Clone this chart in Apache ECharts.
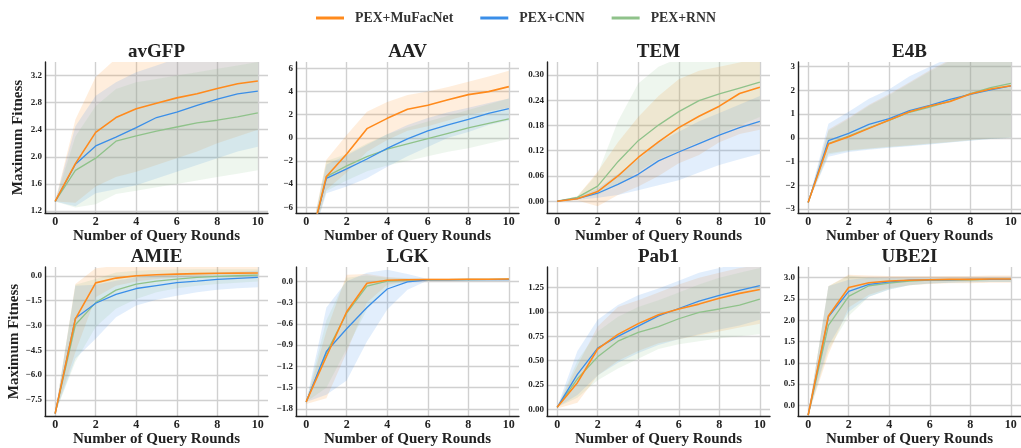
<!DOCTYPE html>
<html>
<head>
<meta charset="utf-8">
<style>
  html, body { margin: 0; padding: 0; background: #fff; }
  #main { width: 1021px; height: 448px; }
</style>
</head>
<body>
<div id="main"></div>
<script src="https://cdn.jsdelivr.net/npm/echarts@6/dist/echarts.min.js"></script>
<script>
// rounds on the x axis
var rounds = [0, 1, 2, 3, 4, 5, 6, 7, 8, 9, 10];
var xTicks = [0, 2, 4, 6, 8, 10];
var methods = ['PEX+MuFacNet', 'PEX+CNN', 'PEX+RNN'];
var colors = ['#ff8a1c', '#3a8ee8', '#8fc28a'];

// avGFP
var avgfpMufac = [1.34, 1.90, 2.36, 2.58, 2.71, 2.79, 2.87, 2.93, 3.01, 3.08, 3.12];
var avgfpCnn   = [1.34, 1.89, 2.16, 2.29, 2.43, 2.58, 2.66, 2.76, 2.85, 2.93, 2.97];
var avgfpRnn   = [1.34, 1.80, 1.98, 2.23, 2.31, 2.38, 2.44, 2.50, 2.54, 2.59, 2.65];
var avgfpMufacLo = [1.34, 1.32, 1.56, 1.70, 1.78, 1.88, 1.98, 2.08, 2.20, 2.30, 2.40];
var avgfpMufacHi = [1.34, 2.55, 3.18, 3.45, 3.55, 3.60, 3.65, 3.70, 3.75, 3.80, 3.80];
var avgfpCnnLo = [1.34, 1.27, 1.46, 1.52, 1.58, 1.68, 1.78, 1.88, 1.98, 2.08, 2.15];
var avgfpCnnHi = [1.34, 2.45, 2.90, 3.10, 3.25, 3.35, 3.45, 3.50, 3.55, 3.60, 3.60];
var avgfpRnnLo = [1.34, 1.25, 1.30, 1.45, 1.50, 1.55, 1.60, 1.65, 1.70, 1.75, 1.80];
var avgfpRnnHi = [1.34, 2.30, 2.75, 3.00, 3.10, 3.15, 3.20, 3.25, 3.30, 3.35, 3.40];
var avgfpTicks = [1.2, 1.6, 2.0, 2.4, 2.8, 3.2];

// AAV
var aavMufac = [-10.5, -3.35, -1.40, 0.79, 1.68, 2.46, 2.81, 3.29, 3.73, 3.99, 4.42];
var aavCnn   = [-10.5, -3.50, -2.69, -1.83, -0.91, -0.10, 0.59, 1.11, 1.60, 2.12, 2.52];
var aavRnn   = [-10.5, -3.35, -2.43, -1.63, -0.99, -0.53, -0.07, 0.39, 0.85, 1.25, 1.63];
var aavMufacLo = [-10.5, -4.5, -3.0, -1.2, -0.2, 0.6, 1.0, 1.5, 2.0, 2.3, 2.6];
var aavMufacHi = [-10.5, -1.9, 0.24, 2.26, 3.1, 3.7, 4.0, 4.4, 4.85, 5.3, 5.8];
var aavCnnLo = [-10.5, -4.8, -4.2, -3.5, -2.5, -1.6, -0.8, 0.0, 0.5, 1.1, 1.5];
var aavCnnHi = [-10.5, -2.3, -1.5, -0.6, 0.3, 1.1, 1.7, 2.2, 2.6, 3.0, 3.4];
var aavRnnLo = [-10.5, -4.6, -3.7, -2.9, -2.4, -2.0, -1.6, -1.2, -0.9, -0.5, -0.1];
var aavRnnHi = [-10.5, -2.0, -1.4, -0.5, 0.3, 0.9, 1.4, 1.9, 2.4, 2.9, 3.4];
var aavTicks = [-6, -4, -2, 0, 2, 4, 6];

// TEM
var temMufac = [0, 0.006, 0.023, 0.060, 0.104, 0.141, 0.175, 0.202, 0.226, 0.256, 0.271];
var temCnn   = [0, 0.006, 0.019, 0.040, 0.064, 0.096, 0.117, 0.137, 0.157, 0.175, 0.190];
var temRnn   = [0, 0.009, 0.036, 0.094, 0.144, 0.181, 0.213, 0.239, 0.255, 0.269, 0.283];
var temMufacLo = [0, 0.002, -0.012, 0.015, 0.035, 0.06, 0.09, 0.11, 0.14, 0.16, 0.17];
var temMufacHi = [0, 0.012, 0.07, 0.14, 0.20, 0.25, 0.29, 0.31, 0.32, 0.33, 0.34];
var temCnnLo = [0, 0.003, 0.008, 0.015, 0.026, 0.038, 0.05, 0.068, 0.086, 0.10, 0.113];
var temCnnHi = [0, 0.01, 0.03, 0.065, 0.10, 0.14, 0.165, 0.19, 0.21, 0.23, 0.25];
var temRnnLo = [0, 0.006, 0.015, 0.04, 0.07, 0.10, 0.12, 0.14, 0.16, 0.18, 0.20];
var temRnnHi = [0, 0.012, 0.066, 0.19, 0.28, 0.32, 0.34, 0.35, 0.36, 0.36, 0.37];
var temTicks = [0, 0.06, 0.12, 0.18, 0.24, 0.30];

// E4B
var e4bMufac = [-2.73, -0.26, 0.05, 0.40, 0.75, 1.10, 1.34, 1.53, 1.85, 2.06, 2.20];
var e4bCnn   = [-2.73, -0.12, 0.19, 0.57, 0.81, 1.15, 1.37, 1.62, 1.83, 2.02, 2.19];
var e4bRnn   = [-2.73, -0.24, 0.07, 0.42, 0.74, 1.08, 1.30, 1.55, 1.87, 2.12, 2.30];
var e4bMufacLo = [-2.73, -0.65, -0.52, -0.45, -0.38, -0.31, -0.24, -0.17, -0.09, -0.03, 0.02];
var e4bMufacHi = [-2.73, 0.35, 0.85, 1.4, 1.85, 2.35, 2.85, 3.3, 3.6, 3.8, 4.0];
var e4bCnnLo = [-2.73, -0.8, -0.6, -0.5, -0.42, -0.35, -0.28, -0.2, -0.12, -0.05, 0.0];
var e4bCnnHi = [-2.73, 0.6, 1.1, 1.65, 2.05, 2.6, 3.0, 3.4, 3.7, 3.9, 4.1];
var e4bRnnLo = [-2.73, -0.7, -0.55, -0.47, -0.4, -0.33, -0.26, -0.19, -0.11, -0.05, 0.0];
var e4bRnnHi = [-2.73, 0.3, 0.8, 1.35, 1.8, 2.3, 2.8, 3.25, 3.55, 3.75, 3.95];
var e4bTicks = [-3, -2, -1, 0, 1, 2, 3];

// AMIE
var amieMufac = [-8.33, -2.6, -0.43, -0.14, 0.0, 0.06, 0.10, 0.13, 0.15, 0.16, 0.17];
var amieCnn   = [-8.33, -2.57, -1.66, -1.12, -0.77, -0.59, -0.41, -0.32, -0.22, -0.16, -0.10];
var amieRnn   = [-8.33, -2.96, -1.62, -0.87, -0.51, -0.32, -0.20, -0.10, -0.04, 0.0, 0.04];
var amieMufacLo = [-8.33, -4.6, -1.3, -0.6, -0.35, -0.2, -0.1, -0.05, 0.0, 0.02, 0.03];
var amieMufacHi = [-8.33, -0.5, 0.45, 0.6, 0.6, 0.6, 0.6, 0.6, 0.6, 0.6, 0.6];
var amieCnnLo = [-8.33, -5.0, -3.8, -2.5, -1.8, -1.45, -1.2, -1.0, -0.85, -0.75, -0.69];
var amieCnnHi = [-8.33, -0.6, -0.55, -0.3, -0.1, 0.02, 0.1, 0.15, 0.2, 0.25, 0.3];
var amieRnnLo = [-8.33, -5.2, -3.1, -2.0, -1.4, -1.0, -0.75, -0.6, -0.5, -0.42, -0.35];
var amieRnnHi = [-8.33, -0.55, -0.2, 0.2, 0.3, 0.35, 0.38, 0.4, 0.4, 0.4, 0.4];
var amieTicks = [-7.5, -6.0, -4.5, -3.0, -1.5, 0.0];

// LGK
var lgkMufac = [-1.70, -1.06, -0.43, -0.03, 0.014, 0.02, 0.023, 0.025, 0.027, 0.028, 0.03];
var lgkCnn   = [-1.70, -0.99, -0.67, -0.37, -0.11, -0.01, 0.018, 0.02, 0.021, 0.022, 0.023];
var lgkRnn   = [-1.70, -1.01, -0.45, -0.07, 0.0, 0.014, 0.02, 0.022, 0.024, 0.026, 0.028];
var lgkMufacLo = [-1.73, -1.65, -1.0, -0.3, -0.05, 0.0, 0.01, 0.01, 0.01, 0.01, 0.015];
var lgkMufacHi = [-1.70, -0.7, 0.09, 0.1, 0.06, 0.04, 0.04, 0.04, 0.04, 0.04, 0.045];
var lgkCnnLo = [-1.70, -1.6, -1.4, -0.85, -0.4, -0.12, 0.01, 0.01, 0.01, 0.01, 0.01];
var lgkCnnHi = [-1.70, -0.37, 0.0, 0.12, 0.16, 0.1, 0.03, 0.03, 0.03, 0.03, 0.03];
var lgkRnnLo = [-1.70, -1.5, -0.95, -0.4, -0.08, -0.01, 0.01, 0.01, 0.01, 0.01, 0.015];
var lgkRnnHi = [-1.70, -0.55, 0.05, 0.08, 0.05, 0.04, 0.035, 0.035, 0.035, 0.035, 0.04];
var lgkTicks = [-1.8, -1.5, -1.2, -0.9, -0.6, -0.3, 0.0];

// Pab1
var pab1Mufac = [0.023, 0.275, 0.62, 0.77, 0.88, 0.97, 1.03, 1.08, 1.14, 1.19, 1.23];
var pab1Cnn   = [0.023, 0.36, 0.63, 0.75, 0.855, 0.96, 1.035, 1.11, 1.17, 1.22, 1.27];
var pab1Rnn   = [0.023, 0.315, 0.54, 0.70, 0.79, 0.85, 0.93, 0.995, 1.03, 1.07, 1.13];
var pab1MufacLo = [0.01, 0.07, 0.35, 0.5, 0.6, 0.68, 0.72, 0.76, 0.8, 0.84, 0.88];
var pab1MufacHi = [0.023, 0.45, 0.85, 1.05, 1.12, 1.2, 1.28, 1.35, 1.4, 1.45, 1.48];
var pab1CnnLo = [0.023, 0.15, 0.35, 0.48, 0.58, 0.66, 0.72, 0.77, 0.82, 0.86, 0.92];
var pab1CnnHi = [0.023, 0.6, 0.92, 1.07, 1.17, 1.24, 1.32, 1.4, 1.45, 1.5, 1.52];
var pab1RnnLo = [0.023, 0.12, 0.3, 0.42, 0.52, 0.62, 0.67, 0.7, 0.73, 0.75, 0.77];
var pab1RnnHi = [0.023, 0.5, 0.8, 0.95, 1.05, 1.12, 1.2, 1.28, 1.35, 1.4, 1.45];
var pab1Ticks = [0, 0.25, 0.5, 0.75, 1.0, 1.25];

// UBE2I
var ube2iMufac = [-0.23, 2.10, 2.77, 2.88, 2.92, 2.94, 2.95, 2.96, 2.96, 2.97, 2.97];
var ube2iCnn   = [-0.23, 2.08, 2.68, 2.84, 2.90, 2.94, 2.95, 2.95, 2.96, 2.96, 2.96];
var ube2iRnn   = [-0.23, 1.88, 2.56, 2.81, 2.87, 2.92, 2.94, 2.95, 2.95, 2.96, 2.96];
var ube2iMufacLo = [-0.23, 1.2, 2.3, 2.6, 2.75, 2.82, 2.85, 2.87, 2.87, 2.88, 2.88];
var ube2iMufacHi = [-0.23, 2.8, 3.07, 3.05, 3.04, 3.04, 3.04, 3.04, 3.04, 3.05, 3.05];
var ube2iCnnLo = [-0.23, 1.4, 2.2, 2.55, 2.72, 2.82, 2.86, 2.88, 2.89, 2.9, 2.9];
var ube2iCnnHi = [-0.23, 2.8, 2.95, 3.0, 3.0, 3.0, 3.0, 3.0, 3.0, 3.0, 3.0];
var ube2iRnnLo = [-0.23, 1.3, 2.1, 2.55, 2.72, 2.82, 2.86, 2.88, 2.89, 2.9, 2.9];
var ube2iRnnHi = [-0.23, 2.8, 3.05, 3.0, 2.98, 2.98, 2.98, 2.98, 2.98, 2.98, 2.98];
var ube2iTicks = [0, 0.5, 1.0, 1.5, 2.0, 2.5, 3.0];

var panels = [
    {title: 'avGFP', ymin: 1.17, ymax: 3.4, ticks: avgfpTicks, dec: 1,
     mean: [avgfpMufac, avgfpCnn, avgfpRnn], lo: [avgfpMufacLo, avgfpCnnLo, avgfpRnnLo], hi: [avgfpMufacHi, avgfpCnnHi, avgfpRnnHi]},
    {title: 'AAV', ymin: -6.5, ymax: 6.55, ticks: aavTicks, dec: 0,
     mean: [aavMufac, aavCnn, aavRnn], lo: [aavMufacLo, aavCnnLo, aavRnnLo], hi: [aavMufacHi, aavCnnHi, aavRnnHi]},
    {title: 'TEM', ymin: -0.028, ymax: 0.331, ticks: temTicks, dec: 2,
     mean: [temMufac, temCnn, temRnn], lo: [temMufacLo, temCnnLo, temRnnLo], hi: [temMufacHi, temCnnHi, temRnnHi]},
    {title: 'E4B', ymin: -3.17, ymax: 3.2, ticks: e4bTicks, dec: 0,
     mean: [e4bMufac, e4bCnn, e4bRnn], lo: [e4bMufacLo, e4bCnnLo, e4bRnnLo], hi: [e4bMufacHi, e4bCnnHi, e4bRnnHi]},
    {title: 'AMIE', ymin: -8.48, ymax: 0.53, ticks: amieTicks, dec: 1,
     mean: [amieMufac, amieCnn, amieRnn], lo: [amieMufacLo, amieCnnLo, amieRnnLo], hi: [amieMufacHi, amieCnnHi, amieRnnHi]},
    {title: 'LGK', ymin: -1.9, ymax: 0.2, ticks: lgkTicks, dec: 1,
     mean: [lgkMufac, lgkCnn, lgkRnn], lo: [lgkMufacLo, lgkCnnLo, lgkRnnLo], hi: [lgkMufacHi, lgkCnnHi, lgkRnnHi]},
    {title: 'Pab1', ymin: -0.067, ymax: 1.46, ticks: pab1Ticks, dec: 2,
     mean: [pab1Mufac, pab1Cnn, pab1Rnn], lo: [pab1MufacLo, pab1CnnLo, pab1RnnLo], hi: [pab1MufacHi, pab1CnnHi, pab1RnnHi]},
    {title: 'UBE2I', ymin: -0.25, ymax: 3.25, ticks: ube2iTicks, dec: 1,
     mean: [ube2iMufac, ube2iCnn, ube2iRnn], lo: [ube2iMufacLo, ube2iCnnLo, ube2iRnnLo], hi: [ube2iMufacHi, ube2iCnnHi, ube2iRnnHi]}
];

var font = 'Liberation Serif';
var colLeft = [45, 296, 547, 798];
var rowTop = [62, 267];
var gridW = 223, gridH = 151;

function pts(vals) {
    return rounds.map(function (x, i) { return [x, vals[i]]; });
}
function fmt(v, dec) {
    var s = v.toFixed(dec);
    if (parseFloat(s) === 0) s = (0).toFixed(dec);
    return s.replace('-', '\u2212');
}

// band polygon between lo and hi, drawn once from the first item
function bandRenderer(fill) {
    return function (params, api) {
        if (params.dataIndexInside !== 0) return;
        var n = params.dataInsideLength;
        var top = [], bot = [];
        for (var j = 0; j < n; j++) {
            top.push(api.coord([api.value(0, j), api.value(2, j)]));
            bot.push(api.coord([api.value(0, j), api.value(1, j)]));
        }
        var cs = params.coordSys;
        return {
            type: 'polygon',
            shape: {points: top.concat(bot.reverse())},
            style: {fill: fill},
            clipPath: {type: 'rect', shape: {x: cs.x, y: cs.y, width: cs.width, height: cs.height}},
            silent: true
        };
    };
}

var grids = [], xAxes = [], yAxes = [], titles = [], series = [];
panels.forEach(function (p, i) {
    var r = Math.floor(i / 4), c = i % 4;
    grids.push({left: colLeft[c], top: rowTop[r], width: gridW, height: gridH + r});
    titles.push({
        text: p.title, left: colLeft[c] + gridW / 2, top: rowTop[r] - 19, textAlign: 'center', padding: 0,
        textStyle: {fontFamily: font, fontWeight: 'bold', fontSize: 19, color: '#222'}
    });
    xAxes.push({
        type: 'value', gridIndex: i, min: -0.5, max: 10.5,
        name: 'Number of Query Rounds', nameLocation: 'middle', nameGap: 14,
        nameTextStyle: {fontFamily: font, fontWeight: 'bold', fontSize: 15, color: '#222'},
        axisLine: {onZero: false, lineStyle: {color: '#222', width: 1.4}},
        axisTick: {show: false, customValues: xTicks},
        axisLabel: {customValues: xTicks, margin: 3, fontFamily: font, fontWeight: 'bold', fontSize: 12, color: '#222'},
        splitLine: {show: true, lineStyle: {color: '#d0d0d0', width: 1.4}}
    });
    var ticks = p.ticks, dec = p.dec;
    yAxes.push({
        type: 'value', gridIndex: i, min: p.ymin, max: p.ymax,
        name: c === 0 ? 'Maximum Fitness' : '', nameLocation: 'middle', nameGap: 19,
        nameTextStyle: {fontFamily: font, fontWeight: 'bold', fontSize: 15, color: '#222'},
        axisLine: {show: true, onZero: false, lineStyle: {color: '#222', width: 1.4}},
        axisTick: {show: false, customValues: ticks},
        axisLabel: {customValues: ticks, margin: 3, fontFamily: font, fontWeight: 'bold', fontSize: 9, color: '#222',
            formatter: function (v) { return fmt(v, dec); }},
        splitLine: {show: true, lineStyle: {color: '#d0d0d0', width: 1.4}}
    });
    // shaded min-max bands
    for (var k = 0; k < 3; k++) {
        var lo = p.lo[k], hi = p.hi[k];
        series.push({
            type: 'custom', xAxisIndex: i, yAxisIndex: i, silent: true, z: 1,
            encode: {x: 0, y: [1, 2]},
            data: rounds.map(function (x, j) { return [x, lo[j], hi[j]]; }),
            renderItem: bandRenderer(echarts.color.modifyAlpha(colors[k], 0.15))
        });
    }
    [2, 1, 0].forEach(function (k) {
        series.push({
            name: methods[k], type: 'line', xAxisIndex: i, yAxisIndex: i, data: pts(p.mean[k]),
            symbol: 'none', lineStyle: {color: colors[k], width: k === 0 ? 1.6 : 1.3},
            itemStyle: {color: colors[k]}, z: 5 - k
        });
    });
});

var myChart = echarts.init(document.getElementById('main'));
var option = {
    animation: false,
    backgroundColor: '#fff',
    title: titles,
    legend: {
        data: methods, top: 11, left: 316, padding: 0, icon: 'rect', itemWidth: 28, itemHeight: 3, itemGap: 27,
        textStyle: {fontFamily: font, fontWeight: 'bold', fontSize: 13.8, color: '#333', padding: [0, 0, 0, 6]}
    },
    grid: grids,
    xAxis: xAxes,
    yAxis: yAxes,
    series: series
};
myChart.setOption(option);
</script>
</body>
</html>
